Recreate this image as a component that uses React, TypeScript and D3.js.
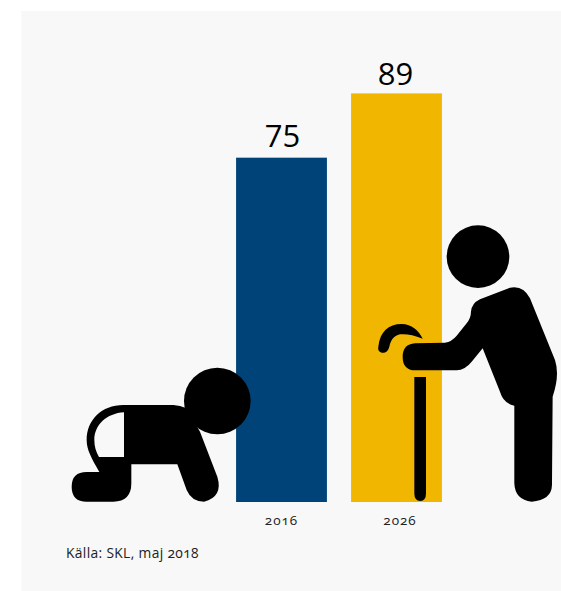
import React from "react";
import * as d3 from "d3";

const categories = ["2016", "2026"];
const values = [75, 89];
const colors = ["#004379", "#f1b600"];
const source = "Källa: SKL, maj 2018";
const labelDx = [1, -1];
const labelLift = [11, 8];
const tickDx = [0, 3.5];

const babyPath =
  "M190,165 L340,165 Q360,166 380,175 L420,245 L472,380 Q490,440 432,455 Q395,455 380,420 L352,343 L214,343 L214,400 Q214,455 160,455 L80,455 Q35,455 35,410 Q35,366 80,366 L118,366 C95,325 80,300 80,270 C80,210 125,165 190,165 Z M192,187 L192,321 L117,321 C108,305 103,290 103,270 C103,225 140,190 192,187 Z";
const manPath =
  "M128,425 Q128,388 165,385 L255,383 Q275,380 290,362 L320,325 Q333,308 333,290 Q335,265 360,253 L450,218 Q490,210 510,250 L585,435 Q600,480 578,545 L576,810 Q575,855 515,860 Q465,855 463,805 L463,572 Q430,565 420,530 L368,400 L335,440 Q315,465 290,466 L165,466 Q128,465 128,425 Z";
const canePath =
  "M163,486 L198,486 L198,835 Q198,858 181,858 Q163,858 163,835 Z";
const handlePath =
  "M55,395 C60,350 85,327 125,327 C155,328 175,345 188,371 C160,360 140,356 120,358 C100,362 92,378 88,395 C84,410 75,415 65,413 C56,410 53,405 55,395 Z";

export default function App() {
  const x = d3.scaleBand().domain(categories).range([224, 454]).paddingInner(0.21).paddingOuter(0.105);
  const y = d3.scaleLinear().domain([0, 89]).range([502, 93.4]);
  const font = "'Open Sans', sans-serif";
  return (
    <svg width={561} height={591} style={{ position: "absolute", left: 0, top: 0 }}>
      <rect x={21.5} y={11} width={539.5} height={580} fill="#f8f8f8" />
      {categories.map((c, i) => (
        <g key={c}>
          <rect x={x(c)} y={y(values[i])} width={x.bandwidth()} height={y(0) - y(values[i])} fill={colors[i]} />
          <text x={x(c)! + x.bandwidth() / 2 + labelDx[i]} y={y(values[i]) - labelLift[i]} textAnchor="middle" fontFamily={font} fontSize={31} fill="#000">
            {values[i]}
          </text>
          <text x={x(c)! + x.bandwidth() / 2 + tickDx[i]} y={525} textAnchor="middle" fontFamily={font} fontSize={13.5} letterSpacing={1} fill="#222" style={{ fontVariantNumeric: "oldstyle-nums" }}>
            {c}
          </text>
        </g>
      ))}
      <g transform="translate(60,350) scale(0.3333)">
        <circle cx={472} cy={153} r={100} />
        <path d={babyPath} fillRule="evenodd" />
      </g>
      <g transform="translate(360,215) scale(0.3333)">
        <circle cx={354} cy={125} r={94} />
        <path d={manPath} />
        <path d={canePath} />
        <path d={handlePath} />
      </g>
      <text x={66} y={558} fontFamily={font} fontSize={13.8} letterSpacing={0.35} fill="#222" style={{ fontVariantNumeric: "oldstyle-nums" }}>
        {source}
      </text>
    </svg>
  );
}
